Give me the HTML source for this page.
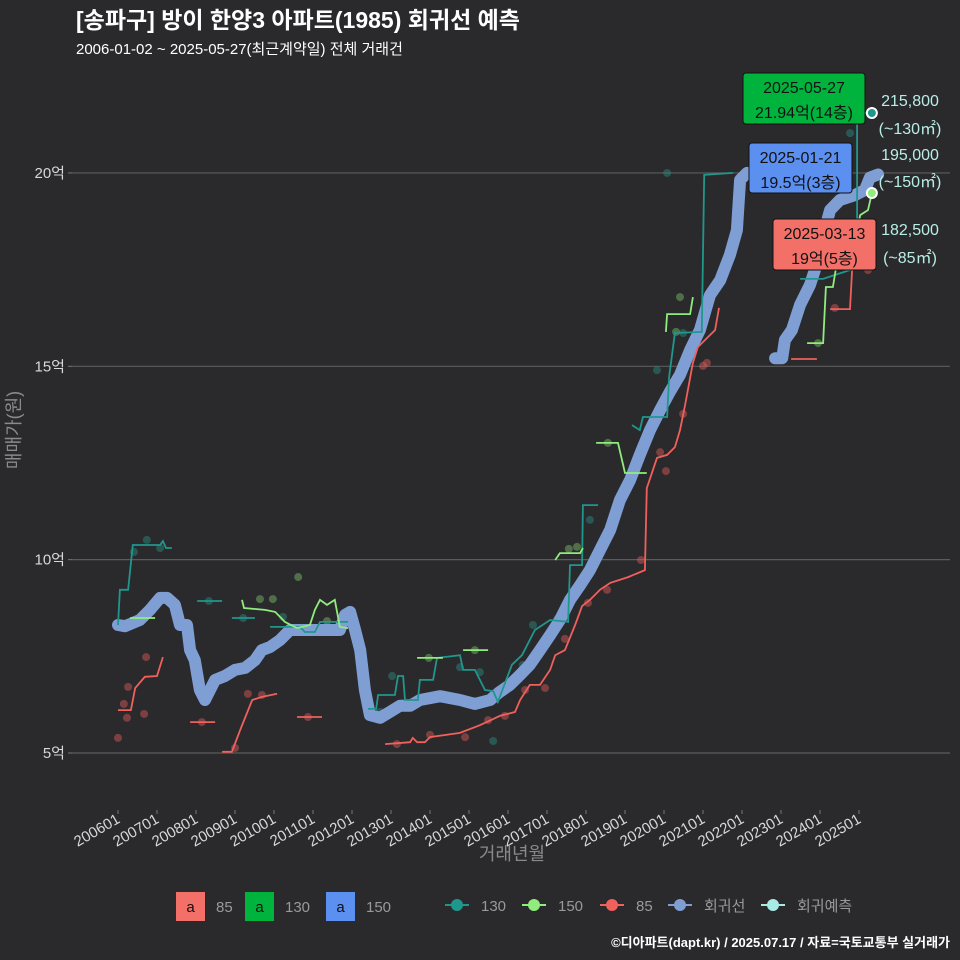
<!DOCTYPE html>
<html><head><meta charset="utf-8">
<style>
html,body{margin:0;padding:0;background:#2a2a2c;}
svg{display:block;}
text{font-family:"Liberation Sans","Noto Sans CJK KR",sans-serif;}
</style></head>
<body>
<svg id="chart" width="960" height="960" viewBox="0 0 960 960" xmlns="http://www.w3.org/2000/svg">
<rect width="960" height="960" fill="#2a2a2c"/>
<text x="76" y="28" font-size="23" font-weight="bold" fill="#ffffff">[송파구] 방이 한양3 아파트(1985) 회귀선 예측</text>
<text x="76" y="54" font-size="15" fill="#ffffff">2006-01-02 ~ 2025-05-27(최근계약일) 전체 거래건</text>
<g id="grid"></g>
<g id="yaxis"></g>
<g id="xaxis"></g>
<text transform="translate(20,430) rotate(-90)" text-anchor="middle" font-size="18" fill="#8a8a8a">매매가(원)</text>
<text x="512" y="860" text-anchor="middle" font-size="18" fill="#8a8a8a">거래년월</text>
<g id="marks"></g>
<g id="annot"></g>
<g id="legend"></g>
<text x="950" y="947" text-anchor="end" font-size="13" font-weight="bold" fill="#ffffff">©디아파트(dapt.kr) / 2025.07.17 / 자료=국토교통부 실거래가</text>
</svg>
<script>
const yTicks=[5,10,15,20];
const yTickLabels=["5억","10억","15억","20억"];
const xTicks=[2006,2007,2008,2009,2010,2011,2012,2013,2014,2015,2016,2017,2018,2019,2020,2021,2022,2023,2024,2025];
const xTickLabels=["200601","200701","200801","200901","201001","201101","201201","201301","201401","201501","201601","201701","201801","201901","202001","202101","202201","202301","202401","202501"];
// regression line: [year, 억], null = break
const regT=[2006.0,2006.18,2006.56,2006.82,2007.08,2007.26,2007.46,2007.59,2007.77,2007.85,2007.97,2008.10,2008.23,2008.36,2008.49,2008.74,2009.0,2009.26,2009.51,2009.69,2009.90,2010.15,2010.41,2010.67,2011.05,2011.69,2011.82,2011.95,2012.08,2012.21,2012.33,2012.46,2012.72,2012.97,2013.23,2013.49,2013.74,2014.26,2014.77,2015.15,2015.54,2015.79,2016.05,2016.31,2016.56,2016.82,2017.08,2017.33,2017.59,2017.85,2018.10,2018.36,2018.62,2018.87,2019.13,2019.38,2019.64,2019.90,2020.15,2020.41,2020.67,2020.92,2021.18,2021.44,2021.69,2021.87,2021.95,2022.13,null,2022.85,2023.03,2023.10,2023.28,2023.49,2023.74,2023.87,2024.05,2024.26,2024.51,2024.90,2025.15,2025.28,2025.49];
const regV=[8.31,8.28,8.44,8.70,9.01,9.01,8.83,8.31,8.31,7.66,7.40,6.63,6.37,6.63,6.89,6.99,7.15,7.20,7.40,7.66,7.74,7.92,8.18,8.18,8.18,8.18,8.57,8.65,8.18,7.66,6.63,5.98,5.91,6.06,6.22,6.22,6.37,6.47,6.37,6.27,6.37,6.58,6.76,7.02,7.28,7.66,8.05,8.44,8.96,9.34,9.73,10.25,10.77,11.54,12.06,12.71,13.35,13.87,14.34,14.78,15.42,15.94,16.84,17.23,17.88,18.52,19.82,20.0,null,15.21,15.21,15.68,15.94,16.59,17.10,17.49,18.27,19.04,19.30,19.43,19.56,19.88,19.96];
// step lines per area (null = break)
const s130T=[2006.00,2006.05,2006.26,2006.38,2007.08,2007.15,2007.23,2007.38,null,2008.03,2008.67,null,2008.92,2009.51,null,2009.90,2010.67,2010.79,2011.05,2011.18,2011.69,2011.90,null,2012.41,2012.62,2012.67,2013.10,2013.18,2013.31,2013.36,2013.69,2013.74,2014.08,2014.18,2014.77,2014.85,2015.15,2015.41,2015.62,2015.74,2016.10,2016.36,2016.69,2017.08,2017.54,2017.59,2017.90,2017.92,2018.31,null,2019.18,2019.38,2019.46,2020.08,2020.13,2020.28,2020.97,2021.03,2021.77,null,2023.49,2024.08,2024.77,2024.95,2024.95,2025.28];
const s130V=[8.31,9.22,9.22,10.38,10.38,10.48,10.30,10.30,null,8.93,8.93,null,8.49,8.49,null,8.26,8.26,8.13,8.13,8.39,8.39,8.39,null,6.14,6.14,6.50,6.50,6.99,6.99,6.37,6.37,6.89,6.89,7.46,7.53,7.15,7.15,6.63,6.60,6.32,7.28,7.53,8.18,8.44,8.39,9.86,9.86,11.41,11.41,null,13.48,13.35,13.69,13.69,14.72,15.86,15.89,19.95,20.0,null,17.26,17.26,17.49,18.01,21.55,21.55];
const s150T=[2006.31,2006.95,null,2009.18,2009.23,2009.77,2010.03,2010.28,2010.59,2010.92,2011.05,2011.18,2011.36,2011.56,2011.69,2011.90,null,2013.67,2014.33,null,2014.85,2015.49,null,2017.21,2017.33,2017.85,2017.92,null,2018.26,2018.82,2019.0,2019.56,null,2020.05,2020.08,2020.67,2020.74,null,2023.67,2024.08,2024.15,2024.33,2024.41,2024.64,2024.90,2025.03,2025.23,2025.33];
const s150V=[8.49,8.49,null,8.96,8.75,8.70,8.65,8.39,8.23,8.31,8.70,8.96,8.83,8.96,8.26,8.23,null,7.46,7.46,null,7.66,7.66,null,9.99,10.17,10.17,10.30,null,13.02,13.02,12.24,12.24,null,15.89,16.35,16.35,16.79,null,15.60,15.60,17.05,17.05,17.54,18.01,18.27,18.91,19.04,19.48];
const s85T=[2006.0,2006.33,2006.44,2006.69,2007.0,2007.15,null,2007.85,2008.49,null,2008.67,2008.92,2009.13,2009.44,2009.69,2010.08,null,2010.59,2011.23,null,2012.85,2013.49,2013.56,2013.67,2013.87,2014.0,2014.77,2015.28,2015.79,2016.18,2016.31,2016.56,2016.82,2017.08,2017.21,2017.46,2017.72,2017.90,2018.10,2018.36,2018.62,2019.08,2019.51,2019.56,2019.82,2020.08,2020.28,2020.41,2020.54,2020.74,2020.87,2021.10,2021.31,2021.41,null,2023.26,2023.92,null,2024.26,2024.77,2024.82,2024.90];
const s85V=[6.11,6.11,6.68,6.97,6.99,7.48,null,5.80,5.80,null,5.03,5.03,5.59,6.37,6.45,6.53,null,5.93,5.93,null,5.23,5.28,5.39,5.28,5.28,5.41,5.52,5.72,5.96,6.06,6.37,6.76,6.76,7.15,7.53,7.66,8.31,8.80,8.96,9.22,9.40,9.55,9.73,11.85,12.63,12.71,12.91,13.35,14.0,15.09,15.50,15.73,15.94,16.51,null,15.19,15.19,null,16.48,16.48,17.44,18.27];
// transactions (scatter)
const p130T=[2006.74,2006.41,2007.08,2008.33,2009.21,2010.23,2012.72,2013.03,2013.92,2014.77,2015.28,2015.62,2016.38,2016.64,2017.26,2018.10,2019.82,2020.49,2020.08,2024.77,2024.90];
const p130V=[10.51,10.20,10.30,8.93,8.49,8.52,6.06,6.99,6.42,7.22,7.09,5.31,7.28,8.31,8.47,11.03,14.90,15.86,20.0,21.03,21.89];
const p150T=[2006.77,2009.64,2009.97,2010.62,2011.36,2013.97,2015.15,2017.56,2017.77,2018.56,2020.41,2020.31,2023.95];
const p150V=[8.62,8.98,8.98,9.55,8.41,7.46,7.66,10.28,10.33,13.02,16.79,15.89,15.60];
const p85T=[2006.0,2006.15,2006.26,2006.23,2006.72,2006.67,2008.15,2009.0,2009.33,2009.69,2010.87,2013.15,2014.0,2014.90,2015.49,2015.92,2016.44,2016.95,2017.46,2018.05,2018.54,2019.41,2019.90,2020.05,2020.49,2021.0,2021.10,2024.38,2025.15,2025.23];
const p85V=[5.39,6.27,6.71,5.91,7.48,6.01,5.80,5.13,6.53,6.50,5.93,5.23,5.47,5.41,5.85,5.96,6.63,6.68,7.95,8.88,9.22,9.99,12.78,12.29,13.77,15.01,15.09,16.51,18.14,17.49];
const hiT=[2025.33,2025.33];
const hiV=[21.55,19.48];

const NS="http://www.w3.org/2000/svg";
const X=t=>118+(t-2006)*39.0;
const Y=v=>753-(v-5)*38.67;
function mk(tag,at,parent){const e=document.createElementNS(NS,tag);for(const k in at)e.setAttribute(k,at[k]);parent.appendChild(e);return e;}
const grid=document.getElementById('grid'),yax=document.getElementById('yaxis'),xax=document.getElementById('xaxis'),marks=document.getElementById('marks'),ann=document.getElementById('annot'),leg=document.getElementById('legend');
yTicks.forEach((v,i)=>{
  const l=mk('line',{x1:72,x2:950,y1:Y(v),y2:Y(v),stroke:'#5c5c5c','stroke-width':1.2},grid);
  
  
  const tk=mk('line',{x1:68,x2:72,y1:Y(v),y2:Y(v),stroke:'#777'},yax);
  
  
  const t=mk('text',{x:65,y:Y(v)+5,'text-anchor':'end','font-size':15,fill:'#d8d8d8'},yax);
  
  
  t.textContent=yTickLabels[i];
});
xTicks.forEach((tv,i)=>{
  const x=X(tv);
  const tk=mk('line',{x1:x,x2:x,y1:810,y2:814,stroke:'#777'},xax);
  
  
  const t=mk('text',{x:x+3,y:822,'text-anchor':'end','font-size':15,fill:'#d8d8d8',transform:`rotate(-30 ${x+3} 822)`},xax);
  
  
  t.textContent=xTickLabels[i];
});
function pathD(T,V){let d='',pen=false;for(let i=0;i<T.length;i++){if(T[i]===null){pen=false;continue;}d+=(pen?'L':'M')+X(T[i]).toFixed(1)+','+Y(V[i]).toFixed(1);pen=true;}return d;}
function dots(T,V,col,name){T.forEach((t,i)=>{const c=mk('circle',{cx:X(t),cy:Y(V[i]),r:4,fill:col,'fill-opacity':0.45},marks);});}
dots(p130T,p130V,'#2a8f84','point-130');
dots(p150T,p150V,'#7fc46a','point-150');
dots(p85T,p85V,'#e05a5a','point-85');
const reg=mk('path',{d:pathD(regT,regV),fill:'none',stroke:'#7f9fd4','stroke-width':12,'stroke-linejoin':'round','stroke-linecap':'round'},marks);


const l130=mk('path',{d:pathD(s130T,s130V),fill:'none',stroke:'#20978d','stroke-width':1.8},marks);


const l150=mk('path',{d:pathD(s150T,s150V),fill:'none',stroke:'#90ec7c','stroke-width':1.8},marks);


const l85=mk('path',{d:pathD(s85T,s85V),fill:'none',stroke:'#f0605c','stroke-width':1.8},marks);


const hcols=['#20978d','#90ec7c'];
hiT.forEach((t,i)=>{const c=mk('circle',{cx:X(t),cy:Y(hiV[i]),r:5,fill:hcols[i],stroke:'#ffffff','stroke-width':2},marks);});
function box(x,y,w,h,col,l1,l2,name){const g=mk('g',{},ann);
 mk('rect',{x:x,y:y,width:w,height:h,rx:3,fill:col,stroke:'#111','stroke-width':1},g);
 const a=mk('text',{x:x+w/2,y:y+20,'text-anchor':'middle','font-size':16,fill:'#111'},g);a.textContent=l1;
 const b=mk('text',{x:x+w/2,y:y+45,'text-anchor':'middle','font-size':16,fill:'#111'},g);b.textContent=l2;}
box(743,73,122,51,'#00b33c','2025-05-27','21.94억(14층)','label-130');
box(749,143,103,50,'#5b8ff0','2025-01-21','19.5억(3층)','label-150');
box(773,219,103,51,'#f27068','2025-03-13','19억(5층)','label-85');
const side=[['215,800',106],['(~130㎡)',134],['195,000',160],['(~150㎡)',187],['182,500',235],['(~85㎡)',263]];
side.forEach((s,i)=>{const t=mk('text',{x:910,y:s[1],'text-anchor':'middle','font-size':16,fill:'#b8eee6'},ann);t.textContent=s[0];});
const lsq=[[176,'#f27068','85'],[245,'#00b33c','130'],[326,'#5b8ff0','150']];
lsq.forEach(s=>{const g=mk('g',{},leg);
 mk('rect',{x:s[0],y:892,width:29,height:29,fill:s[1]},g);
 const a=mk('text',{x:s[0]+14.5,y:912,'text-anchor':'middle','font-size':15,fill:'#111'},g);a.textContent='a';
 const t=mk('text',{x:s[0]+40,y:912,'font-size':15,fill:'#999'},g);t.textContent=s[2];});
const lln=[[457,'#20978d','130'],[534,'#90ec7c','150'],[612,'#f0605c','85'],[680,'#7f9fd4','회귀선'],[773,'#a8eae4','회귀예측']];
lln.forEach(s=>{const g=mk('g',{},leg);
 mk('line',{x1:s[0]-12,x2:s[0]+12,y1:905,y2:905,stroke:s[1],'stroke-width':2},g);
 mk('circle',{cx:s[0],cy:905,r:6,fill:s[1]},g);
 const t=mk('text',{x:s[0]+24,y:911,'font-size':15,fill:'#999'},g);t.textContent=s[2];});
</script>
</body></html>
